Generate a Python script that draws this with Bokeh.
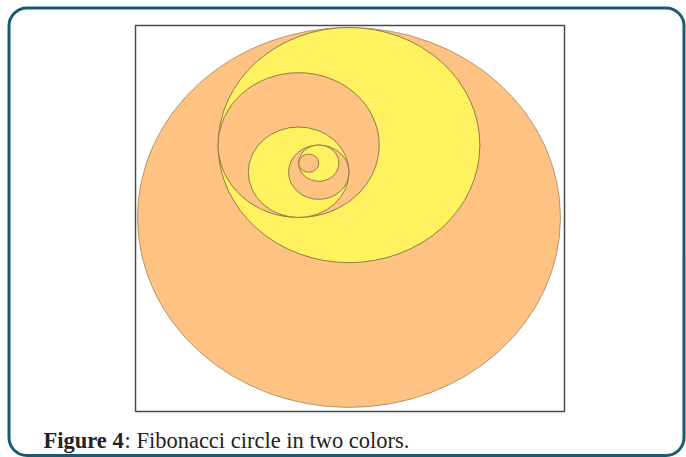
from bokeh.plotting import figure
from bokeh.models import Range1d, Label, BoxAnnotation
from bokeh.embed import file_html
from bokeh.resources import INLINE

# Fibonacci circles: radius and centre (in units of the smallest radius)
radii = [21, 13, 8, 5, 3, 2, 1]
centre_x = [0, 0, -5, -5, -3, -3, -4]
centre_y = [0, 8, 8, 5, 5, 6, 6]
caption_bold = "Figure 4"
caption_rest = ": Fibonacci circle in two colors."

# styles
ORANGE = "#FEC282"
YELLOW = "#FFF160"
fills = [ORANGE if i % 2 == 0 else YELLOW for i in range(len(radii))]
edges = ["#b8956a"] + ["#8d7d48"] * (len(radii) - 1)

W, H = 686, 457
p = figure(width=W, height=H, output_backend="svg", toolbar_location=None,
           x_axis_type=None, y_axis_type=None,
           x_range=Range1d(-34.61, 33.52), y_range=Range1d(-26.53, 23.98),
           min_border_left=0, min_border_right=0,
           min_border_top=0, min_border_bottom=0)
p.grid.visible = False
p.outline_line_color = None
p.background_fill_color = "white"
p.border_fill_color = "white"

# inner plot box
p.add_layout(BoxAnnotation(left=135, right=564, top=25, bottom=411,
                           left_units="canvas", right_units="canvas",
                           top_units="canvas", bottom_units="canvas",
                           fill_color=None, line_color="#4a4a4a",
                           line_alpha=1.0, line_width=1.5, level="underlay"))

p.ellipse(x=centre_x, y=centre_y, width=[2 * r for r in radii],
          height=[2 * r for r in radii], fill_color=fills,
          line_color=edges, line_width=1)

# rounded outer border
p.add_layout(BoxAnnotation(left=8.5, right=683.5, top=7.5, bottom=455,
                           left_units="canvas", right_units="canvas",
                           top_units="canvas", bottom_units="canvas",
                           fill_color=None, line_color="#1b5a76",
                           line_alpha=1.0, line_width=3, border_radius=18,
                           level="overlay"))

# caption
p.add_layout(Label(x=43, y=440, x_units="canvas", y_units="canvas",
                   text=caption_bold, text_font="Liberation Serif",
                   text_font_size="22.5px", text_font_style="bold",
                   text_color="#222222", text_baseline="alphabetic"))
p.add_layout(Label(x=124, y=440, x_units="canvas", y_units="canvas",
                   text=caption_rest, text_font="Liberation Serif",
                   text_font_size="22.5px", text_color="#222222",
                   text_baseline="alphabetic"))

open("out.html", "w").write(file_html(p, INLINE))
